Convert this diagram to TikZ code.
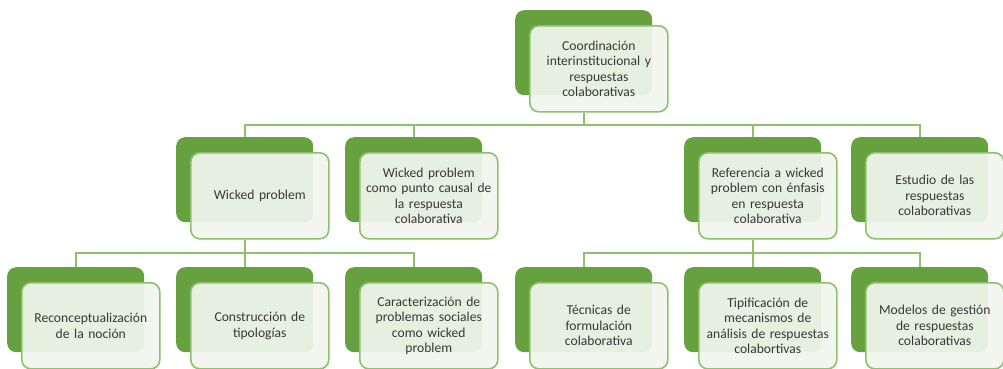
\documentclass[tikz,border=0pt]{standalone}
\usepackage{fontspec}
\setmainfont{Carlito}
\definecolor{darkg}{HTML}{67A13F}
\definecolor{lineg}{HTML}{8CC26E}
\definecolor{lightf}{HTML}{F1F5EE}
\tikzset{
  darkbox/.style={anchor=north west, fill=darkg, draw=none, rounded corners=9pt,
    minimum width=137pt, minimum height=85pt, inner sep=0pt},
  lightbox/.style={anchor=north west, fill=lightf, fill opacity=0.93, text opacity=1,
    draw=lineg, line width=1.6pt, rounded corners=9pt,
    minimum width=138pt, minimum height=86pt, inner sep=2pt,
    text width=132pt, align=center, font=\fontsize{13.6}{15.5}\selectfont, text=black!78},
  conn/.style={draw=lineg, line width=1.8pt},
}
\newcommand\gbox[4]{%
  \node[darkbox] (d#1) at (#2,#3) {};
  \node[lightbox] (l#1) at (#2+14,#3+15) {#4};
}
\begin{document}
\begin{tikzpicture}[x=1pt,y=-1pt]
\useasboundingbox (0,0) rectangle (1003,368);
% top
\gbox{0}{515}{10}{Coordinación\\interinstitucional y\\respuestas\\colaborativas}
% level 2
\gbox{1}{176}{137}{Wicked problem}
\gbox{2}{345}{137}{Wicked problem\\como punto causal de\\la respuesta\\colaborativa}
\gbox{3}{684}{137}{Referencia a wicked\\problem con énfasis\\en respuesta\\colaborativa}
\gbox{4}{851}{137}{Estudio de las\\respuestas\\colaborativas}
% level 3
\gbox{5}{7}{267}{Reconceptualización\\de la noción}
\gbox{6}{176}{267}{Construcción de\\tipologías}
\gbox{7}{345}{267}{Caracterización de\\problemas sociales\\como wicked\\problem}
\gbox{8}{515}{267}{Técnicas de\\formulación\\colaborativa}
\gbox{9}{684}{267}{Tipificación de\\mecanismos de\\análisis de respuestas\\colabortivas}
\gbox{10}{851}{267}{Modelos de gestión\\de respuestas\\colaborativas}
% buses
\coordinate (b1) at (0,125);
\coordinate (b2) at (0,253);
% connectors level 1 -> 2
\draw[conn] (d0.center |- l0.south) -- (d0.center |- b1);
\draw[conn] (d1.north) -- (d1.north |- b1) -- (d4.north |- b1) -- (d4.north);
\draw[conn] (d2.north) -- (d2.north |- b1);
\draw[conn] (d3.north) -- (d3.north |- b1);
% connectors level 2 -> 3 (left)
\draw[conn] (d1.center |- l1.south) -- (d1.center |- b2);
\draw[conn] (d5.north) -- (d5.north |- b2) -- (d7.north |- b2) -- (d7.north);
\draw[conn] (d6.north) -- (d6.north |- b2);
% connectors level 2 -> 3 (right)
\draw[conn] (d3.center |- l3.south) -- (d3.center |- b2);
\draw[conn] (d8.north) -- (d8.north |- b2) -- (d10.north |- b2) -- (d10.north);
\draw[conn] (d9.north) -- (d9.north |- b2);
\end{tikzpicture}
\end{document}
